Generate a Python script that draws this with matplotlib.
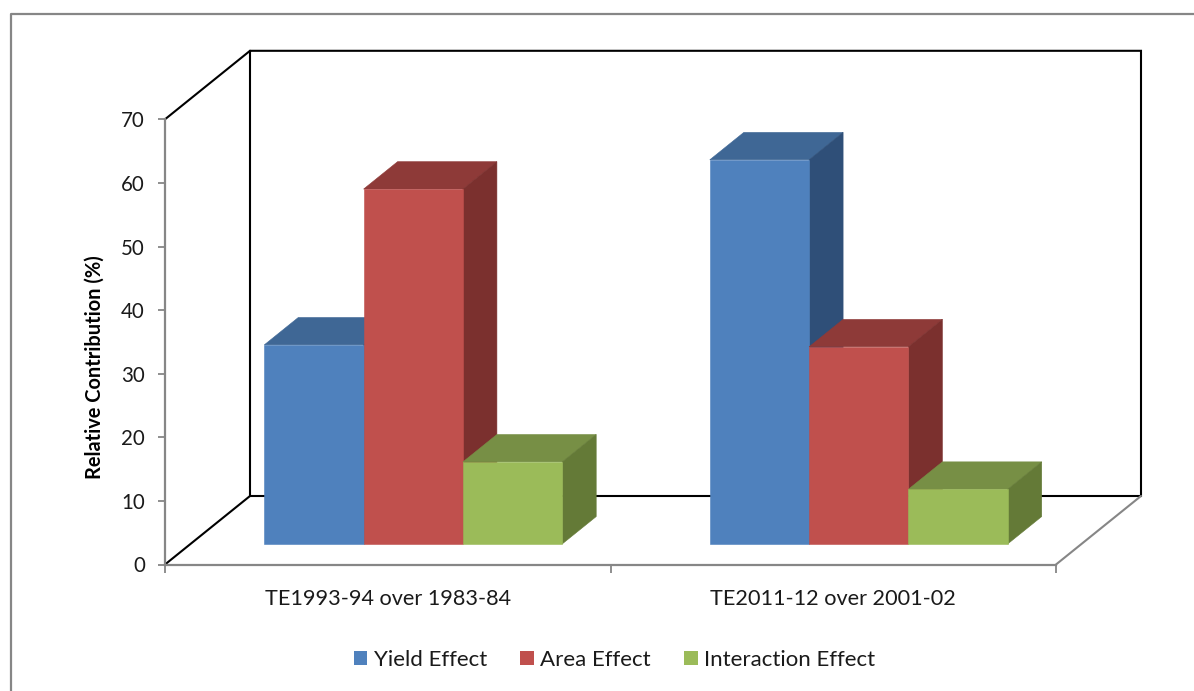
"""
plot.py

Excel-style 3D clustered column chart of the relative contribution of yield,
area and interaction effects. The depth is an oblique projection worked out
on ordinary 2D data coordinates.
"""

import matplotlib
matplotlib.use("Agg")
import matplotlib.pyplot as plt
from matplotlib.patches import Patch
from matplotlib.lines import Line2D

categories = ["TE1993-94 over 1983-84", "TE2011-12 over 2001-02"]
series_names = ["Yield Effect", "Area Effect", "Interaction Effect"]
yield_effect = [31.3, 60.4]
area_effect = [55.8, 31.0]
interaction_effect = [12.9, 8.6]
y_ticks = [0, 10, 20, 30, 40, 50, 60, 70]

front_colors = ["#4F81BD", "#C0504D", "#9BBB59"]
top_colors = ["#3F6795", "#8E3A38", "#778F45"]
side_colors = ["#2F4F78", "#7B302E", "#647A37"]

WIDTH, HEIGHT = 1194, 691
GRAY = "#868686"
TEXT = "#1a1a1a"
FONT = "Lato"

AX_TOP, AX_BOTTOM = 119.3, 564.5

# full shift of the back wall, in data units
DEPTH_X = 85 / 445.5
DEPTH_Y = 68.5 / ((AX_BOTTOM - AX_TOP) / 70)
BAR_WIDTH = 0.2229
BAR_Z0, BAR_Z1 = 0.30, 0.70

plt.rcParams["font.family"] = FONT

fig = plt.figure(figsize=(WIDTH / 100, HEIGHT / 100), dpi=100)
ax = fig.add_axes([165 / WIDTH, 1 - AX_BOTTOM / HEIGHT, 891 / WIDTH, (AX_BOTTOM - AX_TOP) / HEIGHT])
ax.set_xlim(0, 2)
ax.set_ylim(0, 70)
ax.patch.set_alpha(0)


def project(x, y, z):
    return x + z * DEPTH_X, y + z * DEPTH_Y


def draw_box(x0, x1, value, i):
    """Draw one column: top and side first, then the front face."""
    corners = lambda pts: list(zip(*[project(*p) for p in pts]))
    top = corners([(x0, value, BAR_Z0), (x1, value, BAR_Z0),
                   (x1, value, BAR_Z1), (x0, value, BAR_Z1)])
    side = corners([(x1, 0, BAR_Z0), (x1, value, BAR_Z0),
                    (x1, value, BAR_Z1), (x1, 0, BAR_Z1)])
    front = corners([(x0, 0, BAR_Z0), (x1, 0, BAR_Z0),
                     (x1, value, BAR_Z0), (x0, value, BAR_Z0)])
    ax.fill(*top, color=top_colors[i], lw=0.4, clip_on=False, zorder=3)
    ax.fill(*side, color=side_colors[i], lw=0.4, clip_on=False, zorder=3)
    ax.fill(*front, color=front_colors[i], lw=0.4, clip_on=False, zorder=3)


def wall_line(pts, color="black", lw=1.5):
    xs, ys = zip(*[project(*p) for p in pts])
    ax.plot(xs, ys, color=color, lw=lw, clip_on=False, zorder=2,
            solid_capstyle="round", solid_joinstyle="miter")


# back wall and side wall edges
wall_line([(0, 70, 0), (0, 70, 1), (2, 70, 1), (2, 0, 1), (0, 0, 1), (0, 70, 1)])
wall_line([(0, 0, 0), (0, 0, 1)])
wall_line([(2, 0, 0), (2, 0, 1)], color=GRAY)

all_series = [yield_effect, area_effect, interaction_effect]
for c in range(len(categories)):
    left = c + 0.5 - 1.5 * BAR_WIDTH
    for i, values in enumerate(all_series):
        draw_box(left + i * BAR_WIDTH, left + (i + 1) * BAR_WIDTH, values[c], i)

for name in ["top", "right"]:
    ax.spines[name].set_visible(False)
for name in ["left", "bottom"]:
    ax.spines[name].set_color(GRAY)
    ax.spines[name].set_linewidth(1.6)

ax.set_yticks(y_ticks)
ax.set_xticks([0, 1, 2])
ax.set_xticklabels([])
ax.tick_params(axis="y", length=5, width=1.3, color=GRAY, labelcolor=TEXT,
               labelsize=14.8, pad=9.5)
ax.tick_params(axis="x", length=6, width=1.3, color=GRAY)

for c, label in enumerate(categories):
    ax.annotate(label, xy=(c + 0.5, 0), xytext=(0, -24.5), textcoords="offset points",
                ha="center", va="center", fontsize=15.6, color=TEXT)

fig.text(95 / WIDTH, 1 - 367 / HEIGHT, "Relative Contribution (%)", rotation=90,
         ha="center", va="center", fontsize=14.4, fontweight="bold", color="black")

handles = [Patch(facecolor=col, edgecolor="none") for col in front_colors]
fig.legend(handles, series_names, ncol=3, loc="center",
           bbox_to_anchor=(614.5 / WIDTH, 1 - 660 / HEIGHT), frameon=False,
           fontsize=16, labelcolor=TEXT, handlelength=0.6, handleheight=0.6,
           handletextpad=0.3, columnspacing=1.5, borderpad=0, borderaxespad=0)

# chart area frame, the right and bottom sides run off the image
fig.add_artist(Line2D([11 / WIDTH, 11 / WIDTH, 1], [0, 1 - 13.5 / HEIGHT, 1 - 13.5 / HEIGHT],
                      color=GRAY, lw=1.6, transform=fig.transFigure))

fig.savefig("out.png", dpi=100)
